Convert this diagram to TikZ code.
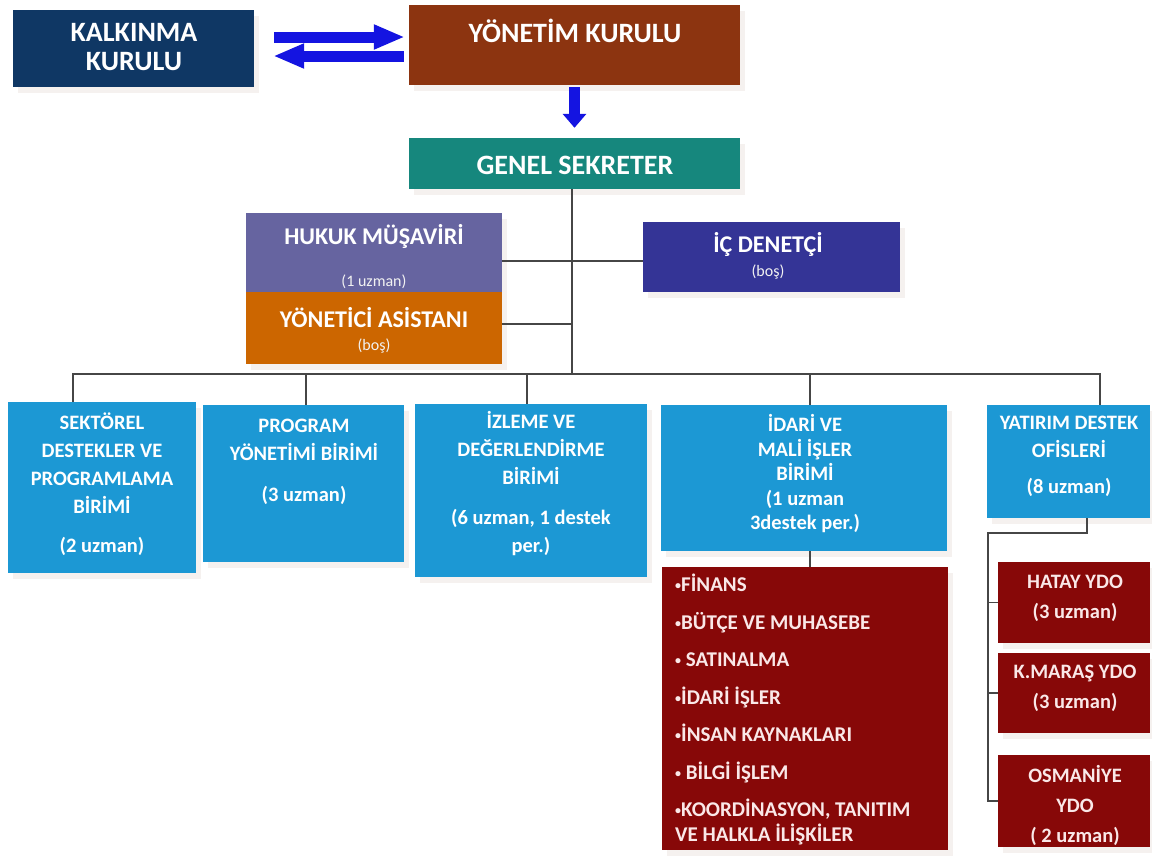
\documentclass[tikz,border=0pt]{standalone}
\usepackage{fontspec}
\setmainfont{Carlito}
\usetikzlibrary{arrows.meta,fit,shadows}
\definecolor{cNavy}{RGB}{15,55,100}
\definecolor{cBrown}{RGB}{140,52,16}
\definecolor{cTeal}{RGB}{22,135,125}
\definecolor{cSlate}{RGB}{102,100,160}
\definecolor{cOrange}{RGB}{204,102,0}
\definecolor{cIndigo}{RGB}{52,52,150}
\definecolor{cBlue}{RGB}{28,152,212}
\definecolor{cRed}{RGB}{135,8,8}
\definecolor{cArrow}{RGB}{20,20,225}
\definecolor{cLine}{RGB}{70,70,70}
\definecolor{cShadow}{RGB}{245,241,239}
\definecolor{cPink}{RGB}{250,232,232}
\newcommand{\blt}{\raisebox{2pt}{\fontsize{12}{12}\selectfont•}}
\begin{document}
\begin{tikzpicture}[x=1pt,y=-1pt,
  box/.style={rectangle,inner sep=0pt,draw=none,
    drop shadow={shadow xshift=5pt,shadow yshift=-6pt,fill=cShadow,opacity=1}},
  txt/.style={text=white,font=\bfseries,inner sep=0pt,align=center},
  ttl/.style={txt,font=\fontsize{28}{29}\selectfont\bfseries},
  mid/.style={txt,font=\fontsize{24}{26}\selectfont\bfseries},
  sml/.style={txt,text=white!90!gray,font=\fontsize{16}{18}\selectfont},
  unit/.style={txt,font=\fontsize{20.5}{28}\selectfont\bfseries},
  ydo/.style={txt,text=cPink,font=\fontsize{20.5}{30}\selectfont\bfseries},
  conn/.style={draw=cLine,line width=1.1pt},
  bigarrow/.style={draw=cArrow,line width=11pt,-{Triangle[length=31pt,width=23pt]}},
  downarrow/.style={draw=cArrow,line width=11pt,-{Triangle[length=14pt,width=23pt]}}]
\useasboundingbox (0,0) rectangle (1152,855);

% boxes
\node[box,fill=cNavy,fit={(13,10) (254,87)}] (kal) {};
\node[box,fill=cBrown,fit={(409,5) (740,85)}] (yon) {};
\node[box,fill=cTeal,fit={(409,138) (740,189)}] (gen) {};
\node[box,fill=cSlate,fit={(246,213) (502,292)}] (huk) {};
\node[box,fill=cOrange,fit={(246,292) (502,364)}] (yas) {};
\node[box,fill=cIndigo,fit={(643,222) (900,292)}] (ic) {};
\node[box,fill=cBlue,fit={(8,402) (196,573)}] (sek) {};
\node[box,fill=cBlue,fit={(203,405) (404,562)}] (pro) {};
\node[box,fill=cBlue,fit={(415,404) (647,577)}] (izl) {};
\node[box,fill=cBlue,fit={(661,405) (947,551)}] (ida) {};
\node[box,fill=cBlue,fit={(987,405) (1150,518)}] (yat) {};
\node[box,fill=cRed,fit={(662,567) (948,850)}] (lst) {};
\node[box,fill=cRed,fit={(998,562) (1150,643)}] (hat) {};
\node[box,fill=cRed,fit={(998,653) (1150,733)}] (kma) {};
\node[box,fill=cRed,fit={(998,755) (1150,847)}] (osm) {};

% texts
\node[ttl] (tkal) at (134,47) {KALKINMA\\KURULU};
\node[ttl] (tyon) at (575,31) {YÖNETİM KURULU};
\node[ttl] (tgen) at (575,165) {GENEL SEKRETER};
\node[mid] (thuk) at (374,236) {HUKUK MÜŞAVİRİ};
\node[sml] (shuk) at (374,282) {(1 uzman)};
\node[mid] (tyas) at (374,318) {YÖNETİCİ ASİSTANI};
\node[sml] (syas) at (374,346) {(boş)};
\node[mid] (tic) at (768,244) {İÇ DENETÇİ};
\node[sml] (sic) at (768,272) {(boş)};
\node[unit] (tsek) at (102,484) {SEKTÖREL\\DESTEKLER VE\\PROGRAMLAMA\\BİRİMİ\\[11pt](2 uzman)};
\node[unit] (tpro) at (304,462) {PROGRAM\\YÖNETİMİ BİRİMİ\\[13pt](3 uzman)};
\node[unit] (tizl) at (531,484) {İZLEME VE\\DEĞERLENDİRME\\BİRİMİ\\[12pt](6 uzman, 1 destek\\per.)};
\node[unit,font=\fontsize{20.5}{24.5}\selectfont\bfseries] (tida) at (805,474) {İDARİ VE\\MALİ İŞLER\\BİRİMİ\\(1 uzman\\3destek per.)};
\node[unit] (tyat) at (1069,456) {YATIRIM DESTEK\\OFİSLERİ\\[8pt](8 uzman)};
\node[ydo] (that) at (1075,598) {HATAY YDO\\(3 uzman)};
\node[ydo] (tkma) at (1075,688) {K.MARAŞ YDO\\(3 uzman)};
\node[ydo] (tosm) at (1075,805) {OSMANİYE\\YDO\\( 2 uzman)};
\node[txt,text=cPink,align=left,anchor=north west,font=\fontsize{21}{25}\selectfont\bfseries] (tlst) at (675,574)
 {\blt FİNANS\\[12.5pt]\blt BÜTÇE VE MUHASEBE\\[12.5pt]\blt\ SATINALMA\\[12.5pt]\blt İDARİ İŞLER\\[12.5pt]\blt İNSAN KAYNAKLARI\\[12.5pt]\blt\ BİLGİ İŞLEM\\[12.5pt]\blt KOORDİNASYON, TANITIM\\VE HALKLA İLİŞKİLER};

% arrows
\draw[bigarrow,shorten <=20pt,shorten >=4pt] (kal.east |- 0,37) -- (yon.west |- 0,37);
\draw[bigarrow,shorten <=5pt,shorten >=19pt] (yon.west |- 0,56) -- (kal.east |- 0,56);
\draw[downarrow,shorten <=2pt,shorten >=10pt] (yon.south) -- (gen.north);

% connectors
\coordinate (jn) at (572,374);
\draw[conn] (gen.south -| jn) -- (jn);
\draw[conn] (huk.east |- 0,261) -- (ic.west |- 0,261);
\draw[conn] (yas.east |- 0,324) -- (jn |- 0,324);
\draw[conn] (sek.north -| 73,0) |- (jn) -| (yat.north -| 1100,0);
\draw[conn] (pro.north -| 306,0) -- (jn -| 306,0);
\draw[conn] (izl.north -| 527,0) -- (jn -| 527,0);
\draw[conn] (ida.north -| 810,0) -- (jn -| 810,0);
\draw[conn] (ida.south -| 810,0) -- (lst.north -| 810,0);
\coordinate (yv) at (988,533);
\draw[conn] (yat.south -| 1087,0) |- (yv) |- (osm.west);
\draw[conn] (yv) |- (hat.west);
\draw[conn] (yv) |- (kma.west);
\end{tikzpicture}
\end{document}
